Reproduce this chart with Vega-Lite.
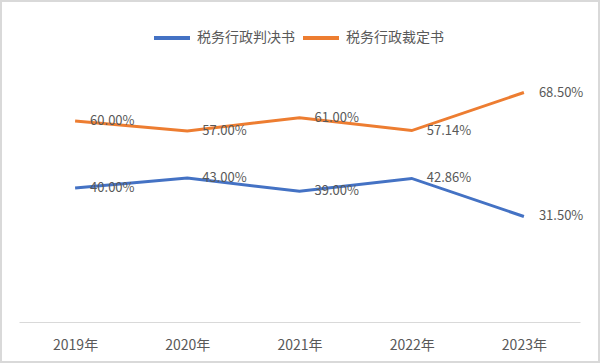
{
  "$schema": "https://vega.github.io/schema/vega-lite/v6.json",
  "width": 600,
  "height": 363,
  "padding": 0,
  "autosize": {"type": "none"},
  "background": "white",
  "config": {
    "view": {"stroke": "#d9d9d9", "strokeWidth": 4},
    "font": "Noto Sans CJK SC"
  },
  "data": {
    "values": [
      {"year": "2019年", "series": "税务行政判决书", "value": 0.40},
      {"year": "2020年", "series": "税务行政判决书", "value": 0.43},
      {"year": "2021年", "series": "税务行政判决书", "value": 0.39},
      {"year": "2022年", "series": "税务行政判决书", "value": 0.4286},
      {"year": "2023年", "series": "税务行政判决书", "value": 0.315},
      {"year": "2019年", "series": "税务行政裁定书", "value": 0.60},
      {"year": "2020年", "series": "税务行政裁定书", "value": 0.57},
      {"year": "2021年", "series": "税务行政裁定书", "value": 0.61},
      {"year": "2022年", "series": "税务行政裁定书", "value": 0.5714},
      {"year": "2023年", "series": "税务行政裁定书", "value": 0.685}
    ]
  },
  "encoding": {
    "x": {
      "field": "year",
      "type": "ordinal",
      "sort": null,
      "scale": {"type": "point", "range": [19, 580], "padding": 0.5},
      "axis": {
        "title": null,
        "offset": -41,
        "labelAngle": 0,
        "ticks": false,
        "grid": false,
        "domainColor": "#d9d9d9",
        "domainWidth": 1,
        "labelColor": "#595959",
        "labelFontSize": 14,
        "labelPadding": 16,
        "labelFont": "Noto Sans CJK SC"
      }
    },
    "y": {
      "field": "value",
      "type": "quantitative",
      "scale": {"domain": [0, 0.8], "range": [322, 54], "nice": false, "zero": false},
      "axis": null
    },
    "color": {
      "field": "series",
      "type": "nominal",
      "sort": ["税务行政判决书", "税务行政裁定书"],
      "scale": {"domain": ["税务行政判决书", "税务行政裁定书"], "range": ["#4472C4", "#ED7D31"]},
      "legend": {
        "title": null,
        "orient": "none",
        "legendX": 152,
        "legendY": 18,
        "direction": "horizontal",
        "symbolType": "stroke",
        "symbolSize": 1296,
        "symbolStrokeWidth": 4,
        "labelFontSize": 14,
        "labelColor": "#595959",
        "labelFont": "Noto Sans CJK SC",
        "labelOffset": 5,
        "columnPadding": 0
      }
    }
  },
  "layer": [
    {"mark": {"type": "line", "strokeWidth": 3}},
    {
      "mark": {"type": "text", "align": "left", "baseline": "middle", "dx": 15, "fontSize": 13, "color": "#595959"},
      "encoding": {
        "text": {"field": "value", "type": "quantitative", "format": ".2%"},
        "color": {"value": "#595959"}
      }
    }
  ]
}
